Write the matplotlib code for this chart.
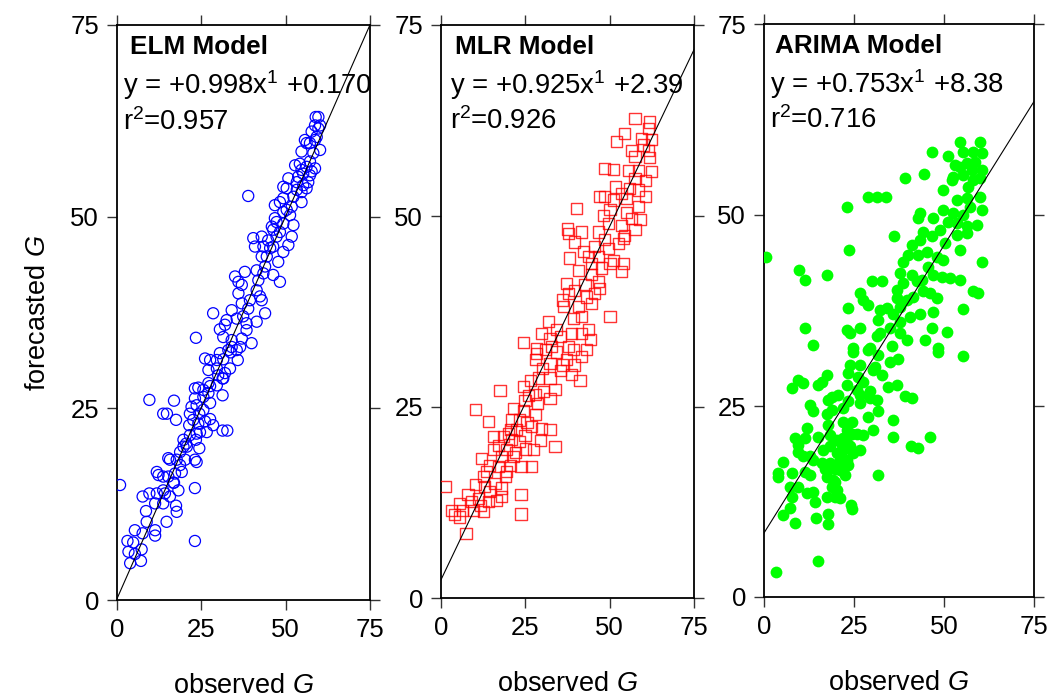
import matplotlib
matplotlib.use("Agg")
import matplotlib.pyplot as plt

plt.rcParams['font.family'] = ['Liberation Sans', 'DejaVu Sans']
plt.rcParams['mathtext.fontset'] = 'custom'
plt.rcParams['mathtext.rm'] = 'Liberation Sans'
plt.rcParams['mathtext.it'] = 'Liberation Sans:italic'
plt.rcParams['mathtext.bf'] = 'Liberation Sans:bold'

# ELM model: (observed, forecasted)
elm_pts = [
    (0.9, 15.0), (9.6, 26.1), (16.9, 26.0), (13.7, 24.3), (14.8, 24.3), (17.5, 23.5), (23.1, 14.6), (23.1, 7.7),
    (31.3, 26.7), (31.3, 22.1), (32.7, 22.1), (7.1, 5.1), (3.9, 4.8), (3.1, 7.7), (5.3, 6.0), (3.4, 6.3),
    (4.8, 7.5), (7.3, 6.6), (5.3, 9.1), (8.8, 10.2), (7.6, 8.7), (11.3, 9.1), (11.3, 8.4), (8.6, 11.6),
    (7.6, 13.5), (9.6, 13.9), (11.3, 12.6), (11.8, 13.9), (13.7, 12.6), (14.2, 13.9), (14.7, 10.2), (17.7, 11.5),
    (17.5, 12.3), (16.7, 15.3), (18.2, 14.3), (13.7, 14.3), (15.7, 13.5), (11.8, 16.7), (12.3, 16.3), (13.7, 16.1),
    (15.2, 16.1), (16.9, 15.3), (17.2, 16.5), (19.2, 16.7), (18.7, 17.6), (15.7, 18.3), (15.2, 18.5), (17.7, 18.3),
    (20.2, 18.3), (18.7, 19.3), (19.7, 20.0), (23.1, 18.3), (23.6, 18.0), (20.5, 20.4), (20.7, 20.0), (24.4, 19.8),
    (19.7, 20.9), (21.6, 21.5), (23.4, 20.9), (23.6, 21.7), (24.6, 21.9), (26.6, 21.9), (21.4, 22.8), (24.1, 23.0),
    (22.6, 23.5), (26.1, 23.3), (28.5, 22.8), (27.6, 23.6), (21.6, 24.3), (24.4, 24.3), (22.1, 25.2), (23.6, 25.4),
    (25.6, 24.8), (23.1, 26.3), (25.6, 26.5), (27.6, 25.7), (27.1, 27.0), (23.1, 27.6), (24.1, 27.7), (25.6, 27.4),
    (27.1, 28.3), (27.6, 27.9), (29.6, 28.0), (31.5, 28.9), (30.0, 29.3), (32.0, 29.6), (31.3, 28.9), (27.1, 30.0),
    (29.6, 30.2), (33.5, 30.2), (26.1, 31.5), (27.6, 31.3), (29.6, 31.3), (31.5, 31.4), (33.7, 32.3), (35.8, 31.3),
    (30.5, 32.2), (33.0, 32.6), (35.5, 32.6),
    (23.4, 34.2), (28.5, 37.4), (30.5, 35.3), (32.0, 35.9), (32.5, 36.5), (31.5, 34.3), (34.0, 33.9), (34.0, 33.0),
    (36.5, 33.0), (37.0, 34.1), (39.9, 33.5), (34.0, 37.8), (35.5, 36.7), (37.4, 37.0), (38.4, 36.1), (38.4, 35.2),
    (41.4, 36.3), (43.9, 37.4), (36.0, 41.5), (37.0, 41.1), (37.9, 42.8), (36.0, 40.0), (37.0, 38.7), (39.4, 39.1),
    (38.9, 38.0), (41.4, 40.4), (42.4, 39.6), (42.9, 39.1), (41.9, 41.7), (43.4, 42.6), (46.3, 42.4), (48.3, 41.5),
    (47.8, 44.1), (40.4, 47.2), (40.9, 46.1), (42.9, 47.4), (43.4, 46.1), (44.4, 44.8), (45.4, 45.9), (42.9, 44.8),
    (44.8, 46.9), (46.3, 46.1), (47.3, 47.4), (49.3, 45.4), (50.8, 46.3), (51.8, 47.4), (46.3, 48.3), (45.9, 48.7),
    (48.3, 48.0), (49.3, 49.1), (47.3, 49.3), (46.8, 49.8), (52.3, 48.9), (51.3, 50.2), (50.3, 50.9), (38.9, 52.7),
    (46.8, 51.5), (48.3, 51.9), (49.3, 52.4), (49.3, 50.6), (51.8, 51.3), (54.7, 51.9), (52.3, 52.6), (53.3, 53.5),
    (49.3, 53.9), (50.3, 53.7), (50.8, 55.0), (53.3, 54.5), (54.7, 53.2), (55.2, 54.1), (56.2, 53.7), (56.7, 54.5),
    (57.2, 55.4), (55.2, 55.6), (53.7, 55.2), (52.8, 56.7), (54.2, 56.9), (54.7, 56.1), (56.2, 56.5), (57.7, 55.9),
    (57.2, 57.2), (58.7, 56.3), (58.2, 58.3), (54.7, 58.5), (56.2, 59.6), (55.7, 60.0), (57.2, 59.6), (58.7, 60.0),
    (60.2, 58.7), (57.7, 61.1), (59.2, 60.4), (59.7, 61.5), (60.2, 61.9), (58.7, 61.9), (59.7, 63.0), (58.9, 63.0),
    (35.0, 42.2), (41.4, 43.0), (43.9, 43.5),
]

# MLR model
mlr_pts = [
    (1.2, 14.6), (17.5, 27.2), (10.1, 24.7), (14.0, 23.1), (7.4, 8.5), (23.7, 13.6), (23.7, 11.0), (33.8, 19.8),
    (32.3, 22.1), (26.9, 17.2), (23.7, 17.2), (3.2, 11.5), (4.1, 10.9), (5.6, 10.6), (5.6, 12.4), (9.1, 12.6),
    (9.6, 11.5), (12.5, 11.3), (11.6, 12.1), (14.0, 12.6), (14.5, 13.9), (10.1, 14.8), (13.0, 14.6), (16.5, 12.8),
    (18.0, 14.4), (18.0, 13.3), (19.0, 15.9), (12.5, 15.9), (14.5, 17.4), (17.0, 17.2), (18.0, 18.5), (15.5, 19.4),
    (12.1, 18.3), (19.5, 19.4), (20.5, 17.4), (21.0, 20.7), (23.4, 20.5), (24.9, 21.3), (27.4, 19.4), (15.5, 21.1),
    (18.5, 21.1), (20.5, 22.0), (21.0, 23.3), (23.4, 23.3), (24.4, 24.6), (21.4, 24.8), (27.9, 24.0), (26.9, 22.4),
    (29.6, 20.6), (29.8, 22.2), (26.4, 28.5), (28.8, 28.8), (32.3, 28.8), (38.7, 29.2), (41.2, 28.5), (33.8, 27.3),
    (32.3, 26.1), (27.9, 26.6), (24.9, 25.9), (24.4, 27.7), (27.9, 31.2), (32.3, 30.7), (35.3, 29.8), (37.3, 31.2),
    (41.7, 31.6), (28.4, 32.0), (34.3, 32.2), (39.2, 32.5), (43.2, 32.5),
    (16.0, 15.0), (19.5, 16.5), (22.0, 19.0), (20.0, 21.5), (22.5, 22.0), (25.5, 23.0), (17.0, 20.0), (11.0, 13.0),
    (8.0, 13.5), (6.5, 11.5), (13.5, 16.5), (21.5, 18.5), (25.0, 19.5), (28.5, 25.5), (30.5, 27.0), (26.0, 26.5),
    (30.0, 30.0), (36.0, 30.5), (39.5, 30.5), (31.0, 32.5),
    (40.2, 51.0), (24.4, 33.4), (50.1, 36.9), (37.6, 48.3), (48.6, 56.2), (51.1, 56.1), (52.1, 59.7), (54.5, 60.8),
    (57.5, 62.8), (61.9, 62.3), (59.5, 60.2), (62.5, 60.0), (56.5, 58.6), (61.5, 58.6), (57.5, 57.8), (61.9, 57.6),
    (55.5, 56.0), (58.5, 56.0), (62.5, 55.8), (60.5, 54.7), (57.5, 54.9), (51.6, 53.8), (53.6, 53.0), (51.1, 52.1),
    (55.0, 52.3), (58.5, 53.4), (58.5, 51.2), (56.5, 49.7), (59.0, 49.5), (57.5, 48.2), (54.5, 47.5), (50.1, 50.8),
    (48.6, 52.5), (48.1, 50.1), (46.6, 47.9), (41.7, 47.9), (37.7, 47.7), (39.7, 46.6), (42.2, 45.3), (45.6, 46.0),
    (49.6, 45.8), (51.1, 44.2), (54.0, 43.8), (53.6, 42.7), (50.1, 43.8), (46.6, 44.7), (43.7, 44.7), (38.2, 44.5),
    (40.7, 42.9), (44.7, 42.3), (47.1, 40.5), (37.3, 41.2), (42.7, 41.0), (45.6, 39.9), (37.7, 39.9), (36.2, 38.1),
    (40.7, 38.1), (44.7, 38.6), (41.7, 36.8), (39.2, 36.6), (31.8, 36.2), (29.8, 34.6), (32.3, 34.0), (35.3, 34.2),
    (38.7, 34.6), (43.7, 35.1), (44.2, 33.8), (37.7, 32.9), (28.4, 32.7), (32.8, 32.9), (47.1, 52.5), (49.6, 49.0),
    (53.6, 48.8), (55.0, 50.4), (56.0, 53.6), (60.5, 52.5), (61.5, 61.5), (60.0, 59.3), (52.6, 46.4), (54.0, 47.1),
    (48.6, 46.9), (44.7, 43.8), (47.6, 43.2), (43.2, 39.4), (39.7, 40.3), (46.6, 41.4), (36.1, 39.0), (34.3, 35.1),
    (41.7, 34.6),
]

# ARIMA model
arima_pts = [
    (0.5, 44.5), (9.8, 42.8), (11.4, 41.5), (17.4, 42.1), (23.0, 51.1), (23.7, 45.4), (29.0, 52.3), (31.3, 52.4),
    (33.9, 52.4), (36.1, 47.2), (39.2, 54.9), (44.4, 55.4), (46.8, 58.3), (51.2, 57.7), (54.4, 59.6), (60.0, 59.6),
    (55.4, 58.3), (58.1, 58.3), (60.5, 58.1), (53.1, 56.5), (54.4, 56.3), (56.3, 56.8), (58.6, 57.0), (60.5, 55.9),
    (57.7, 55.9), (55.4, 55.2), (52.6, 55.0), (52.1, 54.6), (58.1, 54.6), (60.0, 54.8), (56.8, 53.7), (49.8, 53.3),
    (53.5, 52.0), (56.3, 52.2), (60.0, 52.4), (60.5, 50.7), (57.2, 51.1), (49.8, 50.7), (52.6, 50.2), (55.4, 50.0),
    (59.1, 48.7), (56.3, 48.5), (53.5, 48.9), (51.2, 49.1), (47.0, 49.6), (42.9, 49.6), (43.3, 50.2), (48.9, 48.0),
    (53.5, 47.4), (56.3, 47.6), (54.4, 45.4), (60.5, 43.9), (50.3, 46.3), (46.6, 47.2), (44.3, 47.8), (43.3, 46.7),
    (41.0, 46.1), (40.1, 44.8), (42.9, 44.8), (45.2, 45.2), (48.0, 44.5), (49.8, 44.1), (45.6, 43.2), (38.7, 43.9),
    (37.8, 42.4), (41.0, 42.2), (42.4, 41.3), (43.8, 41.5), (38.7, 41.1), (36.9, 40.2), (36.9, 39.1), (34.1, 37.8),
    (37.8, 38.0), (39.6, 38.9), (41.5, 39.3), (44.3, 40.0), (46.1, 39.8), (48.0, 39.1), (49.4, 41.9), (51.7, 41.7),
    (54.4, 41.5), (47.0, 42.2), (58.1, 40.0), (59.5, 39.8), (55.4, 37.7), (47.0, 37.3), (43.3, 37.1), (40.6, 36.7),
    (37.8, 36.0), (35.9, 37.1), (32.2, 37.6), (31.8, 36.3), (29.9, 41.3), (32.7, 41.3), (26.7, 39.8), (27.6, 38.9),
    (29.0, 38.2), (23.4, 37.8), (26.7, 35.2), (23.9, 34.5), (23.0, 35.0), (11.4, 35.2), (13.7, 33.0), (32.2, 34.5),
    (35.0, 35.2), (37.8, 34.5), (39.6, 33.6), (44.7, 33.6), (46.6, 35.2), (50.8, 34.7), (24.8, 32.6), (35.5, 32.8),
    (48.4, 32.6), (29.4, 32.6), (31.3, 34.1),
    (3.3, 3.3), (14.9, 4.7), (48.4, 32.1), (55.4, 31.6), (31.6, 16.0), (35.8, 23.2), (35.9, 20.9), (46.1, 20.9),
    (40.8, 19.7), (42.9, 19.5), (39.2, 26.3), (41.0, 26.0), (34.5, 27.5), (36.9, 27.8), (24.1, 12.0), (24.4, 11.5),
    (17.9, 10.8), (17.7, 9.6), (14.4, 10.4), (8.6, 9.7), (5.4, 10.7), (7.2, 11.6), (7.7, 13.1), (7.2, 14.4),
    (4.0, 15.7), (4.0, 16.2), (5.4, 17.7), (7.7, 16.2), (9.5, 14.4), (11.9, 13.6), (13.7, 13.8), (14.2, 12.5),
    (11.4, 16.4), (12.8, 16.0), (17.4, 13.1), (19.7, 13.1), (21.1, 12.9), (18.8, 14.4), (19.7, 15.1), (17.4, 15.7),
    (16.9, 16.8), (16.0, 17.5), (13.7, 17.9), (12.8, 18.4), (10.9, 18.4), (9.5, 19.0), (9.5, 19.9), (8.6, 20.8),
    (11.4, 20.8), (11.9, 22.1), (15.1, 20.9), (16.5, 19.2), (18.3, 19.7), (20.2, 18.8), (22.0, 19.2), (23.9, 19.7),
    (21.1, 17.9), (18.3, 17.5), (23.0, 17.9), (24.8, 18.8), (26.7, 19.2), (20.2, 20.6), (22.0, 20.8), (24.4, 21.4),
    (18.3, 21.2), (23.0, 21.9), (25.8, 21.4), (27.6, 21.2), (30.4, 21.9), (24.4, 22.9), (22.0, 22.9), (17.9, 22.5),
    (17.4, 16.6), (19.3, 15.3), (20.2, 14.0), (23.4, 17.3), (12.8, 25.1), (13.7, 24.3), (17.4, 24.0), (18.8, 24.5),
    (22.0, 24.7), (23.4, 25.6), (17.9, 25.8), (18.8, 26.2), (20.6, 26.4), (23.0, 27.8), (25.8, 27.1), (26.7, 26.4),
    (29.4, 26.0), (31.3, 25.8), (31.8, 24.3), (29.0, 23.6), (26.7, 25.4), (27.6, 28.2), (29.4, 26.9), (30.4, 29.7),
    (32.7, 29.1), (30.8, 30.1), (26.7, 30.4), (23.9, 30.4), (23.4, 29.3), (26.2, 28.8), (17.4, 29.1), (16.0, 28.2),
    (15.1, 27.8), (10.9, 28.0), (9.5, 28.4), (7.7, 27.3), (35.0, 30.8), (37.3, 31.2), (31.8, 31.7), (29.0, 32.3),
    (24.8, 32.1), (21.1, 16.6), (22.5, 16.0), (21.6, 19.9), (19.7, 16.8), (23.0, 20.1),
]

titles = ["ELM Model", "MLR Model", "ARIMA Model"]
slopes = [0.998, 0.925, 0.753]
intercepts = [0.170, 2.39, 8.38]
eq_text = ["+0.998", "+0.925", "+0.753"]
int_text = ["+0.170", "+2.39", "+8.38"]
r2_text = ["0.957", "0.926", "0.716"]
ticks = [0, 25, 50, 75]

fig = plt.figure(figsize=(10.51, 6.99), dpi=100)
rects = [
    [117 / 1051, 1 - 600 / 699, 253 / 1051, 575 / 699],
    [441 / 1051, 1 - 598 / 699, 253 / 1051, 573 / 699],
    [764 / 1051, 1 - 597 / 699, 270 / 1051, 573 / 699],
]
text_x = [0.05, 0.055, 0.04]
eq_x = [0.022, 0.036, 0.022]

all_pts = [elm_pts, mlr_pts, arima_pts]
for i in range(3):
    ax = fig.add_axes(rects[i])
    xs = [p[0] for p in all_pts[i]]
    ys = [p[1] for p in all_pts[i]]
    if i == 0:
        ax.scatter(xs, ys, s=64, marker='o', facecolors='none', edgecolors='#0000ff', linewidths=0.9, zorder=3)
    elif i == 1:
        ax.scatter(xs, ys, s=64, marker='s', facecolors='none', edgecolors='#ff0000', linewidths=1.0,
                   alpha=0.8, zorder=3)
    else:
        ax.scatter(xs, ys, s=72, marker='o', color='#00ff00', linewidths=0, zorder=3)

    lx = [0, 75]
    ly = [intercepts[i] + slopes[i] * v for v in lx]
    ax.plot(lx, ly, color='black', lw=0.8, zorder=4)

    ax.set_xlim(0, 75)
    ax.set_ylim(0, 75)
    ax.set_xticks(ticks)
    ax.set_yticks(ticks)
    ax.tick_params(direction='out', length=7, width=1.0, color='#333333', labelsize=18.5,
                   top=True, right=True, pad=6)
    for sp in ax.spines.values():
        sp.set_linewidth(1.3)

    ax.text(text_x[i], 0.962, titles[i], transform=ax.transAxes, fontsize=18.8, fontweight='bold',
            va='center', ha='left')
    ax.text(eq_x[i], 0.895, "y = " + eq_text[i] + "x$^1$ " + int_text[i], transform=ax.transAxes,
            fontsize=19.8, va='center', ha='left')
    ax.text(eq_x[i], 0.832, "r$^2$=" + r2_text[i], transform=ax.transAxes,
            fontsize=19.8, va='center', ha='left')

    ax.set_xlabel("observed $\\mathit{G}$", fontsize=19.5, labelpad=22)
    if i == 0:
        ax.set_ylabel("forecasted $\\mathit{G}$", fontsize=19.5, labelpad=14)

fig.savefig("out.png", dpi=100)
